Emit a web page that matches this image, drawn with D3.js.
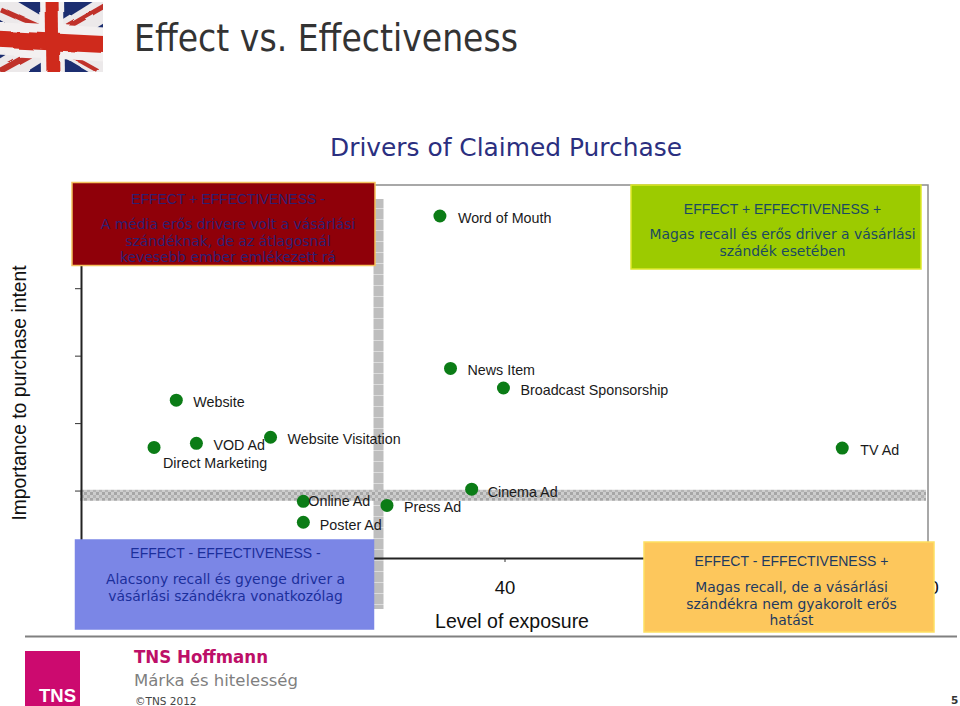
<!DOCTYPE html>
<html>
<head>
<meta charset="utf-8">
<script src="https://cdn.jsdelivr.net/npm/d3@7"></script>
<style>
  html, body { margin: 0; padding: 0; background: #fff; }
  svg { display: block; }
  text { font-family: "Liberation Sans", Arial, sans-serif; }
  .verdana { font-family: "DejaVu Sans", Verdana, sans-serif; }
</style>
</head>
<body>
<div id="chart"></div>
<script>
const names = ['Word of Mouth', 'News Item', 'Broadcast Sponsorship', 'Website', 'VOD Ad', 'Direct Marketing',
  'Website Visitation', 'TV Ad', 'Online Ad', 'Poster Ad', 'Press Ad', 'Cinema Ad'];
const exposure = [33.9, 34.9, 39.9, 9.0, 10.9, 6.9, 17.9, 71.9, 21.0, 21.0, 28.9, 36.9];
const importance = [5.07, 2.81, 2.52, 2.34, 1.70, 1.64, 1.79, 1.63, 0.84, 0.53, 0.78, 1.02];
const xTicks = [0, 20, 40, 60, 80];
const xTickLabels = ['', '', '40', '', '80']; // the others sit behind the quadrant boxes
const yTicks = [0, 1, 2, 3, 4, 5];
const avgExposure = 28.1;
const avgImportance = 0.93;

const quadrantHeads = ['EFFECT + EFFECTIVENESS -', 'EFFECT + EFFECTIVENESS +', 'EFFECT - EFFECTIVENESS -', 'EFFECT - EFFECTIVENESS +'];
const quadrantBodies = [
  ['A média erős drivere volt a vásárlási', 'szándéknak, de az átlagosnál', 'kevesebb ember emlékezett rá'],
  ['Magas recall és erős driver a vásárlási', 'szándék esetében'],
  ['Alacsony recall és gyenge driver a', 'vásárlási szándékra vonatkozólag'],
  ['Magas recall, de a vásárlási', 'szándékra nem gyakorolt erős', 'hatást']
];

const width = 960, height = 706;
const svg = d3.select('#chart').append('svg').attr('width', width).attr('height', height);
const defs = svg.append('defs');

let x = d3.scaleLinear().domain([0, 80]).range([81, 928]);
let y = d3.scaleLinear().domain([0, 5.53]).range([558, 185]);

// textures of the two average bands
const dots = defs.append('pattern').attr('id', 'dots').attr('width', 6).attr('height', 6).attr('patternUnits', 'userSpaceOnUse');
dots.append('rect').attr('width', 6).attr('height', 6).attr('fill', '#cdcdcd');
dots.append('rect').attr('width', 3).attr('height', 3).attr('fill', '#a6a6a6');
dots.append('rect').attr('x', 3).attr('y', 3).attr('width', 3).attr('height', 3).attr('fill', '#b4b4b4');
const rows = defs.append('pattern').attr('id', 'rows').attr('width', 10).attr('height', 11).attr('patternUnits', 'userSpaceOnUse');
rows.append('rect').attr('width', 10).attr('height', 11).attr('fill', '#bebebe');
rows.append('rect').attr('y', 10).attr('width', 10).attr('height', 1).attr('fill', '#dcdcdc');

// flag
defs.append('filter').attr('id', 'wave').attr('x', 0).attr('y', 0).attr('width', 1).attr('height', 1)
  .call(f => {
    f.append('feTurbulence').attr('type', 'fractalNoise').attr('baseFrequency', 0.03).attr('numOctaves', 2).attr('seed', 7).attr('result', 'n');
    f.append('feDisplacementMap').attr('in', 'SourceGraphic').attr('in2', 'n').attr('scale', 6);
    f.append('feGaussianBlur').attr('stdDeviation', 0.7);
  });
defs.append('clipPath').attr('id', 'flagClip').append('rect').attr('x', 0).attr('y', 2).attr('width', 103).attr('height', 70);

const flag = svg.append('g').attr('clip-path', 'url(#flagClip)').append('g').attr('filter', 'url(#wave)');
flag.append('rect').attr('x', -8).attr('y', -6).attr('width', 120).attr('height', 86).attr('fill', '#1d2f6f');
const diag = (x1, y1, x2, y2, color, w) => flag.append('line')
  .attr('x1', x1).attr('y1', y1).attr('x2', x2).attr('y2', y2).attr('stroke', color).attr('stroke-width', w);
diag(-6, 2, 112, 72, '#ece9ea', 24);
diag(-6, 78, 112, 4, '#ece9ea', 24);
diag(0, 9, 38, 26, '#c0302a', 5);
diag(64, 52, 98, 71, '#c0302a', 4);
diag(0, 71, 38, 50, '#c0302a', 6);
diag(68, 27, 106, 5, '#c0302a', 5);
diag(-8, 38, 112, 45, '#f3f0f0', 34);
diag(52, -6, 53, 80, '#f3f0f0', 24);
diag(-8, 39, 112, 45, '#cf2a1d', 17);
diag(52, -6, 53, 80, '#cf2a1d', 13);

svg.append('text').attr('class', 'verdana').attr('x', 134).attr('y', 51)
  .attr('font-size', 37).attr('fill', '#333').attr('textLength', 384).attr('lengthAdjust', 'spacingAndGlyphs').text('Effect vs. Effectiveness');
svg.append('text').attr('class', 'verdana').attr('x', 330).attr('y', 156)
  .attr('font-size', 25.5).attr('fill', '#2b2f80').attr('textLength', 352).attr('lengthAdjust', 'spacingAndGlyphs').text('Drivers of Claimed Purchase');

// plot frame
svg.append('path').attr('d', `M${x(0)},${y.range()[1]}H${x(80)}V${y(0)}`).attr('fill', 'none').attr('stroke', '#8c8c8c').attr('stroke-width', 1.5);

// average bands
svg.append('rect').attr('x', x(avgExposure) - 5).attr('y', 199).attr('width', 10).attr('height', 410).attr('fill', 'url(#rows)');
svg.append('rect').attr('x', 80).attr('y', y(avgImportance) - 5.5).attr('width', 846).attr('height', 11).attr('fill', 'url(#dots)');

// axes
const xAxis = svg.append('g').attr('transform', `translate(0,${y(0)})`)
  .call(d3.axisBottom(x).tickValues(xTicks).tickSize(4).tickPadding(19).tickFormat((d, i) => xTickLabels[i]));
xAxis.selectAll('text').attr('font-size', 18.5).attr('fill', '#111').attr('font-family', '"Liberation Sans", Arial, sans-serif');
const yAxis = svg.append('g').attr('transform', `translate(${x(0)},0)`)
  .call(d3.axisLeft(y).tickValues(yTicks).tickSize(6).tickFormat(''));
svg.selectAll('.domain').attr('stroke', '#222').attr('stroke-width', 2);
svg.selectAll('.tick line').attr('stroke', '#333');

svg.append('text').attr('x', 512).attr('y', 628).attr('text-anchor', 'middle')
  .attr('font-size', 19.5).attr('fill', '#111').text('Level of exposure');
svg.append('text').attr('transform', 'translate(26,393) rotate(-90)').attr('text-anchor', 'middle')
  .attr('font-size', 19.3).attr('fill', '#111').text('Importance to purchase intent');

// points and their labels
const labelOffsets = [[18, 7], [17, 7], [17, 7], [17, 7], [17, 7], [9, 21], [17, 7], [18, 7], [5, 5], [16.5, 8], [17, 7], [16, 8]];
const points = names.map((name, i) => ({ name, x: exposure[i], y: importance[i], off: labelOffsets[i] }));

svg.append('g').selectAll('circle').data(points).enter().append('circle')
  .attr('cx', d => x(d.x)).attr('cy', d => y(d.y)).attr('r', 6.5).attr('fill', '#0b7c16');
svg.append('g').selectAll('text').data(points).enter().append('text')
  .attr('x', d => x(d.x) + d.off[0]).attr('y', d => y(d.y) + d.off[1])
  .attr('font-size', 14.3).attr('fill', '#1a1a1a').text(d => d.name);

// quadrant boxes
const boxes = [
  { x: 72, y: 182.5, w: 303, h: 83, cx: 228, fill: '#8f0009', stroke: '#f4c25e', color: '#2e1f72', head: 204, body: 229 },
  { x: 631, y: 185, w: 290, h: 84, cx: 782.5, fill: '#9ccb00', stroke: '#dfe82a', color: '#1b4a60', head: 214, body: 239 },
  { x: 75.5, y: 540, w: 298, h: 89, cx: 225.5, fill: '#7b86e6', stroke: '#7b86e6', color: '#1b2f9c', head: 558, body: 584 },
  { x: 644, y: 542, w: 290, h: 90, cx: 791.5, fill: '#fdc75c', stroke: '#fddf62', color: '#1e3a60', head: 566, body: 592 }
];
boxes.forEach((b, i) => {
  const g = svg.append('g');
  g.append('rect').attr('x', b.x).attr('y', b.y).attr('width', b.w).attr('height', b.h)
    .attr('fill', b.fill).attr('stroke', b.stroke).attr('stroke-width', 1.5);
  g.append('text').attr('x', b.cx).attr('y', b.head).attr('text-anchor', 'middle')
    .attr('font-size', 14).attr('fill', b.color).text(quadrantHeads[i]);
  g.selectAll('.body').data(quadrantBodies[i]).enter().append('text').attr('class', 'verdana body')
    .attr('x', b.cx).attr('y', (d, k) => b.body + k * 16.5).attr('text-anchor', 'middle')
    .attr('font-size', 13.9).attr('fill', b.color).text(d => d);
});

// footer
svg.append('line').attr('x1', 25).attr('x2', 957).attr('y1', 636.5).attr('y2', 636.5).attr('stroke', '#808080').attr('stroke-width', 2);
svg.append('rect').attr('x', 25).attr('y', 651).attr('width', 55).attr('height', 55).attr('fill', '#cc0a6f');
svg.append('text').attr('x', 39).attr('y', 702).attr('font-size', 19).attr('font-weight', 'bold')
  .attr('fill', '#fff').attr('textLength', 37).attr('lengthAdjust', 'spacingAndGlyphs').text('TNS');
svg.append('text').attr('class', 'verdana').attr('x', 134).attr('y', 663).attr('font-size', 17)
  .attr('font-weight', 'bold').attr('fill', '#bd0f68').attr('textLength', 134).attr('lengthAdjust', 'spacingAndGlyphs').text('TNS Hoffmann');
svg.append('text').attr('class', 'verdana').attr('x', 134).attr('y', 686).attr('font-size', 16.5)
  .attr('fill', '#7f7f7f').attr('textLength', 164).attr('lengthAdjust', 'spacingAndGlyphs').text('Márka és hitelesség');
svg.append('text').attr('class', 'verdana').attr('x', 135).attr('y', 705).attr('font-size', 10.5)
  .attr('fill', '#444').text('©TNS 2012');
svg.append('text').attr('class', 'verdana').attr('x', 951).attr('y', 704).attr('font-size', 10.5)
  .attr('font-weight', 'bold').attr('fill', '#333').text('5');
</script>
</body>
</html>
